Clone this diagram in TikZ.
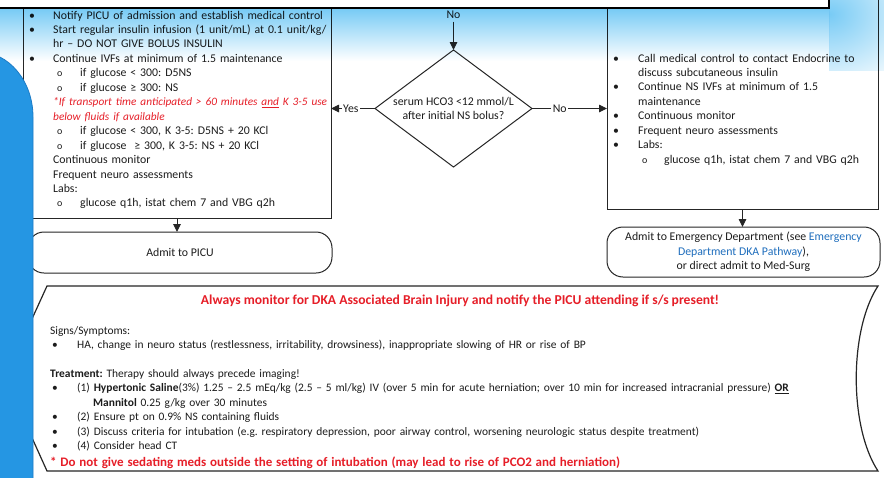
\documentclass[tikz,border=0pt]{standalone}
\usepackage{fontspec}
\setmainfont{Carlito}
\usetikzlibrary{shapes.geometric,arrows.meta}

\definecolor{inkc}{HTML}{1C1C1C}
\definecolor{framec}{HTML}{262626}
\definecolor{alertred}{HTML}{E61E28}
\definecolor{linkblue}{HTML}{1F6EBD}
\definecolor{sidebar}{HTML}{2596E3}
\definecolor{sidebaredge}{HTML}{1B7BC6}
\definecolor{skyband}{HTML}{78CBF5}

\frenchspacing
\newcommand\bodyfont{\fontsize{11.8}{14.46}\selectfont}
\newcommand\panelfont{\fontsize{11.45}{14.46}\selectfont}
\newcommand\bul[1][24pt]{\makebox[#1][l]{\textbullet}}
\newcommand\subo[2]{\hspace*{#1}\makebox[#2][l]{{\fontsize{10}{10}\selectfont o}}}
\newcommand\warnit[1]{{\color{alertred}\itshape\fontsize{11.3}{14.46}\selectfont #1}}

\tikzset{
  body/.style={font=\bodyfont, text=inkc},
  boxline/.style={draw=framec, line width=1pt, inner sep=0pt, outer sep=0pt},
  terminal/.style={boxline, rounded corners=16pt, fill=white, body, align=center},
  arr/.style={draw=framec, line width=0.9pt, -{Triangle[length=8pt,width=7.5pt]}},
  lbl/.style={body, fill=white, inner sep=1.5pt},
  textblock/.style={body, anchor=base west, inner sep=0pt, align=left, text width=#1},
}

\begin{document}
\begin{tikzpicture}[x=1pt,y=-1pt]
\useasboundingbox (0,0) rectangle (884,477);
\fill[white] (0,0) rectangle (884,477);

% ---- left branch: admit to PICU ----
\node[boxline, fill=white, minimum width=308pt, minimum height=238pt] (lbox) at (177,99) {};
\node[textblock=320pt] (ltext) at (29,19) {%
\bul Notify PICU of admission and establish medical control\\
\bul Start regular insulin infusion (1 unit/mL) at 0.1 unit/kg/\\
\hspace*{24pt}hr -- DO NOT GIVE BOLUS INSULIN\\
\bul Continue IVFs at minimum of 1.5 maintenance\\
\subo{28pt}{23pt}if glucose < 300: D5NS\\
\subo{28pt}{23pt}if glucose ≥ 300: NS\\
\hspace*{24pt}\warnit{*If transport time anticipated > 60 minutes \underline{and} K 3-5 use}\\
\hspace*{24pt}\warnit{below fluids if available}\\
\subo{28pt}{23pt}if glucose < 300, K 3-5: D5NS + 20 KCl\\
\subo{28pt}{23pt}if glucose \ ≥ 300, K 3-5: NS + 20 KCl\\
\hspace*{24pt}Continuous monitor\\
\hspace*{24pt}Frequent neuro assessments\\
\hspace*{24pt}Labs:\\
\subo{28pt}{23pt}glucose q1h, istat chem 7 and VBG q2h};

% ---- right branch: stay in the ED ----
\node[boxline, fill=white, minimum width=271pt, minimum height=229pt] (rbox) at (742.5,94.5) {};
\node[textblock=300pt] (rtext) at (613,62) {%
\bul[25pt]Call medical control to contact Endocrine to\\
\hspace*{25pt}discuss subcutaneous insulin\\
\bul[25pt]Continue NS IVFs at minimum of 1.5\\
\hspace*{25pt}maintenance\\
\bul[25pt]Continuous monitor\\
\bul[25pt]Frequent neuro assessments\\
\bul[25pt]Labs:\\
\subo{29pt}{22pt}glucose q1h, istat chem 7 and VBG q2h};

% ---- decision ----
\node[boxline, diamond, shape aspect=1.33, minimum width=157pt, minimum height=117pt] (dec) at (453.5,108.5) {};
\node[body, align=center, inner sep=0pt] (dect) at (dec.center) {serum HCO3 <12 mmol/L\\after initial NS bolus?};
\node[body, inner sep=2.5pt] (topno) at (453.5,15) {No};
\draw[arr] (topno.south) -- (dec.north);
\draw[arr] (dec.west) -- (dec.west -| lbox.east) node[lbl, pos=0.55] (yeslbl) {Yes};
\draw[arr] (dec.east) -- (dec.east -| rbox.west) node[lbl, pos=0.37] (nolbl) {No};

% ---- dispositions ----
\node[terminal, minimum width=304pt, minimum height=41pt] (picu) at (180,252.5) {Admit to PICU};
\node[terminal, minimum width=273pt, minimum height=50pt] (ed) at (743.5,252) {Admit to Emergency Department (see {\color{linkblue}Emergency}\\{\color{linkblue}Department DKA Pathway}),\\or direct admit to Med-Surg};
\draw[arr] (lbox.south) -- (lbox.south |- picu.north);
\draw[arr] (rbox.south) -- (rbox.south |- ed.north);

% ---- brain injury panel ----
\draw[draw=framec, line width=1.2pt, fill=white] (47,286) -- (878,286) .. controls (849,330) and (849,427) .. (878,471) -- (47,471) -- (5,378) -- cycle;
\node[body, font=\fontsize{13.6}{16}\selectfont\bfseries, text=alertred, anchor=base, inner sep=0pt] (btitle) at (460,304.5) {Always monitor for DKA Associated Brain Injury and notify the PICU attending if s/s present!};
\node[textblock=820pt, font=\panelfont] (btext) at (50,334) {%
Signs/Symptoms:\\
\hspace*{2pt}\bul[25pt]HA, change in neuro status (restlessness, irritability, drowsiness), inappropriate slowing of HR or rise of BP\\[14.46pt]
\textbf{Treatment:} Therapy should always precede imaging!\\
\hspace*{2pt}\bul[25pt](1) \textbf{Hypertonic Saline}(3\%) 1.25 -- 2.5 mEq/kg (2.5 -- 5 ml/kg) IV (over 5 min for acute herniation; over 10 min for increased intracranial pressure) \textbf{\underline{OR}}\\
\hspace*{43pt}\textbf{Mannitol} 0.25 g/kg over 30 minutes\\
\hspace*{2pt}\bul[25pt](2) Ensure pt on 0.9\% NS containing fluids\\
\hspace*{2pt}\bul[25pt](3) Discuss criteria for intubation (e.g. respiratory depression, poor airway control, worsening neurologic status despite treatment)\\
\hspace*{2pt}\bul[25pt](4) Consider head CT\\[2.5pt]
{\color{alertred}\bfseries\fontsize{13.0}{14.46}\selectfont * Do not give sedating meds outside the setting of intubation (may lead to rise of PCO2 and herniation)}};

% ---- sky band under the header, multiplied over the content ----
% the axis shading keeps its top colour over the upper quarter, so the
% colour holds down to y=22 and fades out by y=48
\shade[top color=skyband, bottom color=white, blend mode=multiply] (-10,9) rectangle (829,61);
\begin{scope}
  \clip (829,-10) rectangle (890,70);
  \shade[inner color=skyband, outer color=white, blend mode=multiply] (829,14) ellipse [x radius=110, y radius=84];
\end{scope}

% ---- header box edge ----
\draw[line width=1.8pt, draw=black, fill=white] (-20,-20) rectangle (829,8);

% ---- side bar ----
\fill[sidebar, draw=sidebaredge, line width=0.8pt] (-30,52) -- (-21,52) arc[start angle=-90, end angle=0, x radius=54, y radius=65] -- (33,490) -- (-30,490) -- cycle;
\end{tikzpicture}
\end{document}
